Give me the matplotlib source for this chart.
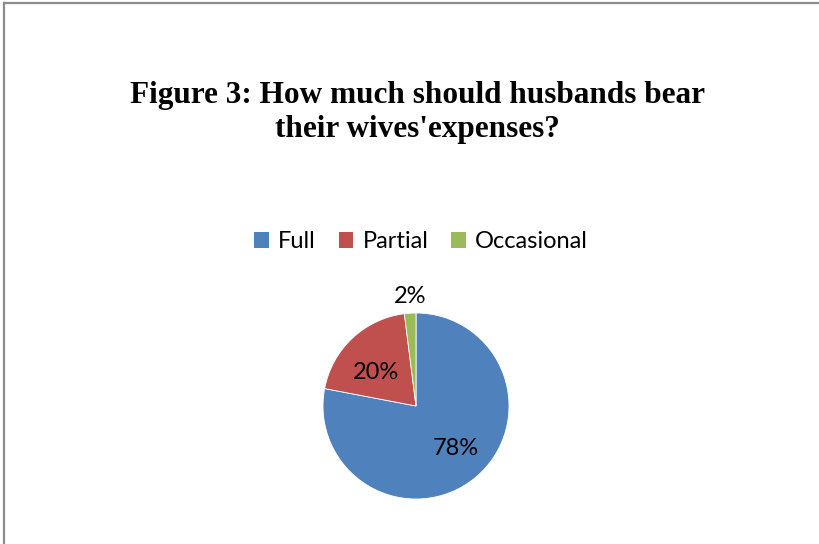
import matplotlib.pyplot as plt
from matplotlib.lines import Line2D
from matplotlib.patches import Patch

labels = ["Full", "Partial", "Occasional"]
shares = [78, 20, 2]
colors = ["#4F81BD", "#C0504D", "#9BBB59"]
# label positions (fraction of radius) as placed in the original
label_xy = [(0.43, -0.46), (-0.43, 0.355), (-0.065, 1.18)]

W, H = 820, 544
fig = plt.figure(figsize=(W / 100, H / 100), dpi=100)

# chart frame (only left and top edges visible in the crop)
fig.add_artist(Line2D([4 / W, 4 / W], [0, 1 - 2.5 / H], color="#8c8c8c", lw=1.6))
fig.add_artist(Line2D([4 / W, 1], [1 - 2.5 / H, 1 - 2.5 / H], color="#8c8c8c", lw=1.6))

title_kw = dict(ha="center", va="baseline", family="Liberation Serif",
                fontweight="bold", fontsize=22.5)
fig.text(418 / W, 1 - 103 / H, "Figure 3: How much should husbands bear", **title_kw)
fig.text(417 / W, 1 - 137 / H, "their wives'expenses?", **title_kw)

# pie axes: centre (416, 406), radius 93 px
r = 93
cx, cy = 416, 406
ax = fig.add_axes([(cx - r) / W, 1 - (cy + r) / H, 2 * r / W, 2 * r / H])
wedges, _ = ax.pie(shares, colors=colors, startangle=90, counterclock=False,
                   radius=1, wedgeprops={"edgecolor": "white", "linewidth": 0.6})
ax.set_xlim(-1, 1)
ax.set_ylim(-1, 1)
ax.set_aspect("equal")
ax.axis("off")
for (x, y), v in zip(label_xy, shares):
    ax.text(x, y, f"{v}%", ha="center", va="center", fontsize=17,
            family="Lato", clip_on=False)

handles = [Patch(facecolor=c, edgecolor="none", label=l) for c, l in zip(colors, labels)]
fig.legend(handles=handles, loc="center", bbox_to_anchor=(421 / W, 1 - 242 / H),
           ncol=3, frameon=False, prop={"family": "Lato", "size": 17},
           handlelength=0.63, handleheight=0.63, handletextpad=0.38,
           columnspacing=0.97, borderpad=0, borderaxespad=0)

fig.savefig("out.png", dpi=100)
